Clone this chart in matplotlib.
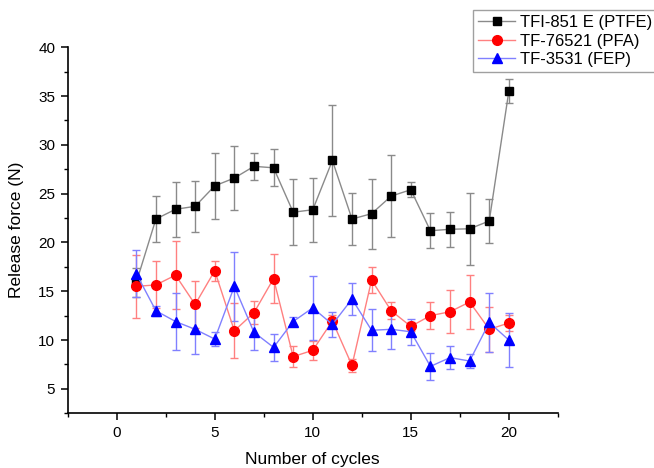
import numpy as np
import matplotlib
matplotlib.use("Agg")
import matplotlib.pyplot as plt
from matplotlib.ticker import MultipleLocator

plt.rcParams["font.family"] = ["Liberation Sans", "DejaVu Sans"]

# data
cycles = np.arange(1, 21)

ptfe = [15.9, 22.4, 23.4, 23.7, 25.8, 26.6, 27.8, 27.65, 23.1, 23.35,
        28.4, 22.4, 22.95, 24.75, 25.4, 21.2, 21.35, 21.4, 22.2, 35.5]
ptfe_err = [1.5, 2.4, 2.8, 2.6, 3.4, 3.3, 1.4, 1.9, 3.4, 3.3,
            5.7, 2.7, 3.6, 4.2, 0.75, 1.8, 1.8, 3.7, 2.3, 1.25]

pfa = [15.5, 15.65, 16.65, 13.65, 17.1, 10.95, 12.8, 16.3, 8.3, 8.95,
       11.95, 7.4, 16.15, 13.0, 11.4, 12.5, 12.9, 13.9, 11.1, 11.75]
pfa_err = [3.2, 2.4, 3.5, 2.4, 1.05, 2.8, 1.2, 2.5, 1.1, 0.95,
           0.6, 0.7, 1.3, 0.85, 0.5, 1.4, 2.2, 2.8, 2.3, 0.8]

fep = [16.8, 13.0, 11.9, 11.1, 10.1, 15.5, 10.8, 9.25, 11.9, 13.3,
       11.6, 14.2, 11.0, 11.1, 10.85, 7.3, 8.2, 7.85, 11.8, 10.0]
fep_err = [2.4, 0.5, 2.95, 2.5, 0.7, 3.5, 1.8, 1.35, 0.5, 3.3,
           1.3, 1.6, 2.15, 2.0, 1.35, 1.35, 1.2, 0.75, 3.0, 2.8]

labels = ["TFI-851 E (PTFE)", "TF-76521 (PFA)", "TF-3531 (FEP)"]

fig = plt.figure(figsize=(6.54, 4.68), dpi=100)
ax = fig.add_axes([0.1035, 0.117, 0.7495, 0.782])

series = [
    (ptfe, ptfe_err, "s", "black", "#8a8a8a", "#8a8a8a", 6),
    (pfa, pfa_err, "o", "red", "#ff8080", "#ff8080", 7),
    (fep, fep_err, "^", "blue", "#8080ff", "#8080ff", 7.5),
]

handles = []
for (y, e, m, mc, lc, ec, ms), lab in zip(series, labels):
    ax.errorbar(cycles, y, yerr=e, fmt="none", ecolor=ec, elinewidth=1.0,
                capsize=3, capthick=1.0, zorder=2)
    h, = ax.plot(cycles, y, color=lc, lw=1.0, marker=m, markersize=ms,
                 markerfacecolor=mc, markeredgecolor=mc, label=lab, zorder=3)
    handles.append(h)

ax.set_xlim(-2.5, 22.5)
ax.set_ylim(2.5, 40)
ax.xaxis.set_major_locator(MultipleLocator(5))
ax.xaxis.set_minor_locator(MultipleLocator(2.5))
ax.yaxis.set_major_locator(MultipleLocator(5))
ax.yaxis.set_minor_locator(MultipleLocator(2.5))
ax.set_yticks([5, 10, 15, 20, 25, 30, 35, 40])

for s in ["top", "right"]:
    ax.spines[s].set_visible(False)
for s in ["left", "bottom"]:
    ax.spines[s].set_linewidth(1.2)

ax.tick_params(which="major", direction="out", length=5, width=1.1,
               labelsize=11, pad=4)
ax.tick_params(which="minor", direction="out", length=3, width=1.0)

ax.set_xlabel("Number of cycles", fontsize=12.5, labelpad=9)
ax.set_ylabel("Release force (N)", fontsize=12.5, labelpad=10)

leg = fig.legend(handles=handles, loc="upper left",
                 bbox_to_anchor=(0.724, 0.978), fontsize=12,
                 frameon=True, fancybox=False, edgecolor="#888888",
                 borderpad=0.3, labelspacing=0.2, handlelength=2.2,
                 handletextpad=0.3, borderaxespad=0)
leg.get_frame().set_linewidth(1.0)

fig.savefig("out.png", dpi=100)
